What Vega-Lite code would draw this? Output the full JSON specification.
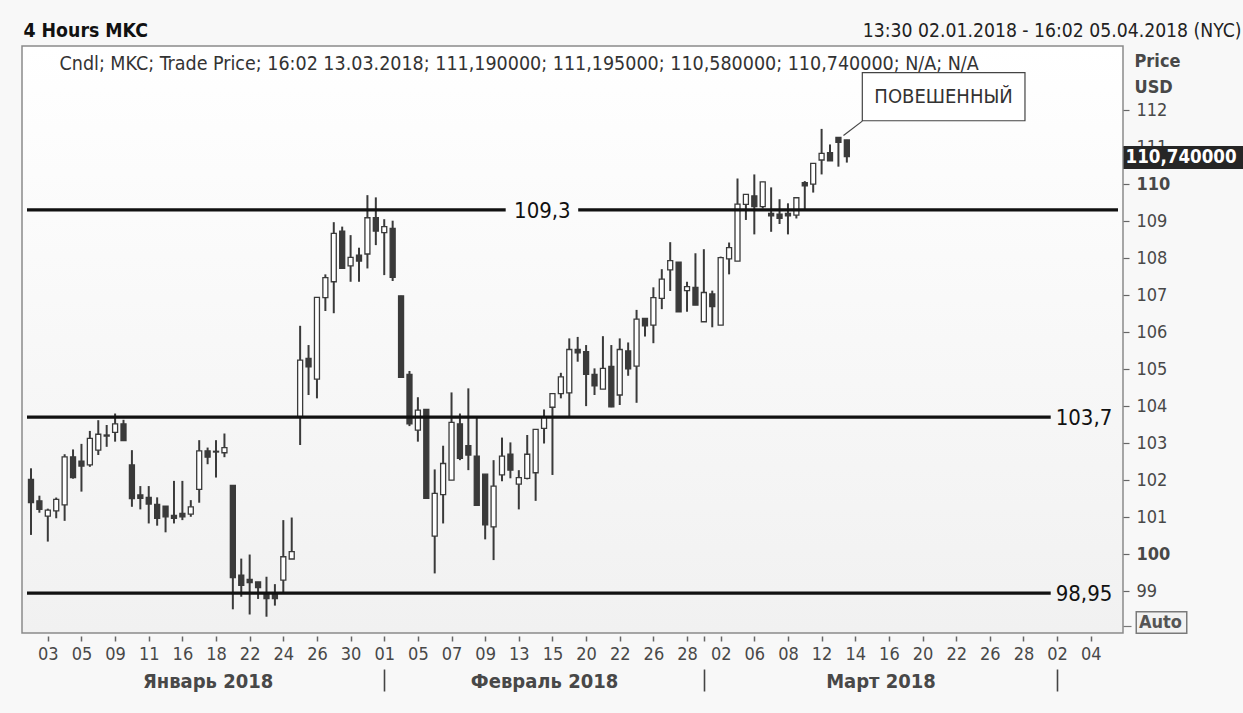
{
  "$schema": "https://vega.github.io/schema/vega-lite/v6.json",
  "width": 1101,
  "height": 587,
  "autosize": {"type": "none"},
  "padding": {"left": 22, "top": 46, "right": 120, "bottom": 80},
  "background": "#f8f8f8",
  "view": {
    "fill": {"gradient": "linear", "x1": 0, "y1": 0, "x2": 0, "y2": 1, "stops": [{"offset": 0, "color": "#ffffff"}, {"offset": 1, "color": "#f1f1f1"}]},
    "stroke": "#8a8a8a",
    "strokeWidth": 1.5
  },
  "config": {
    "font": "DejaVu Sans Condensed, DejaVu Sans",
    "axis": {"grid": false, "domain": false, "labelFont": "DejaVu Sans Condensed, DejaVu Sans", "titleFont": "DejaVu Sans Condensed, DejaVu Sans", "labelFontSize": 18, "labelColor": "#484848", "tickColor": "#666666", "labelOverlap": false, "labelFlush": false, "labelBound": false, "title": null}
  },
  "datasets": {
    "candles": [
      {"s": -1, "o": 102.02, "h": 102.32, "l": 100.52, "c": 101.39},
      {"s": -0.5, "o": 101.44, "h": 101.58, "l": 101.12, "c": 101.21},
      {"s": 0, "o": 101.03, "h": 101.23, "l": 100.34, "c": 101.19},
      {"s": 0.5, "o": 101.17, "h": 101.53, "l": 100.97, "c": 101.48},
      {"s": 1, "o": 101.33, "h": 102.70, "l": 100.90, "c": 102.63},
      {"s": 1.5, "o": 102.63, "h": 102.83, "l": 102.04, "c": 102.07},
      {"s": 2, "o": 102.51, "h": 102.98, "l": 101.69, "c": 102.38},
      {"s": 2.5, "o": 102.41, "h": 103.33, "l": 102.36, "c": 103.13},
      {"s": 3, "o": 102.81, "h": 103.62, "l": 102.68, "c": 103.24},
      {"s": 3.5, "o": 103.19, "h": 103.49, "l": 102.90, "c": 103.22},
      {"s": 4, "o": 103.29, "h": 103.80, "l": 103.04, "c": 103.52},
      {"s": 4.5, "o": 103.52, "h": 103.63, "l": 103.07, "c": 103.07},
      {"s": 5, "o": 102.41, "h": 102.81, "l": 101.28, "c": 101.50},
      {"s": 5.5, "o": 101.60, "h": 101.84, "l": 101.21, "c": 101.51},
      {"s": 6, "o": 101.535, "h": 101.84, "l": 100.83, "c": 101.355},
      {"s": 6.5, "o": 101.345, "h": 101.535, "l": 100.77, "c": 100.97},
      {"s": 7, "o": 101.30, "h": 101.30, "l": 100.59, "c": 101.01},
      {"s": 7.5, "o": 101.05, "h": 101.98, "l": 100.83, "c": 100.97},
      {"s": 8, "o": 101.10, "h": 101.98, "l": 100.92, "c": 101.01},
      {"s": 8.5, "o": 101.08, "h": 101.46, "l": 101.01, "c": 101.28},
      {"s": 9, "o": 101.75, "h": 103.08, "l": 101.39, "c": 102.79},
      {"s": 9.5, "o": 102.79, "h": 102.88, "l": 102.43, "c": 102.62},
      {"s": 10, "o": 102.76, "h": 103.08, "l": 102.07, "c": 102.78},
      {"s": 10.5, "o": 102.74, "h": 103.26, "l": 102.62, "c": 102.88},
      {"s": 11, "o": 101.86, "h": 101.86, "l": 98.51, "c": 99.37},
      {"s": 11.5, "o": 99.43, "h": 99.88, "l": 98.85, "c": 99.16},
      {"s": 12, "o": 99.32, "h": 99.99, "l": 98.37, "c": 99.23},
      {"s": 12.5, "o": 99.25, "h": 99.25, "l": 98.79, "c": 99.10},
      {"s": 13, "o": 98.92, "h": 99.39, "l": 98.31, "c": 98.80},
      {"s": 13.5, "o": 98.94, "h": 99.19, "l": 98.61, "c": 98.80},
      {"s": 14, "o": 99.30, "h": 100.92, "l": 98.96, "c": 99.93},
      {"s": 14.5, "o": 99.87, "h": 100.99, "l": 99.87, "c": 100.07},
      {"s": 15, "o": 103.70, "h": 106.17, "l": 102.95, "c": 105.245},
      {"s": 15.5, "o": 105.29, "h": 105.65, "l": 104.30, "c": 105.06},
      {"s": 16, "o": 104.73, "h": 106.94, "l": 104.21, "c": 106.94},
      {"s": 16.5, "o": 106.93, "h": 107.56, "l": 106.57, "c": 107.47},
      {"s": 17, "o": 107.36, "h": 108.97, "l": 106.51, "c": 108.67},
      {"s": 17.5, "o": 108.73, "h": 108.85, "l": 107.72, "c": 107.72},
      {"s": 18, "o": 107.79, "h": 108.62, "l": 107.36, "c": 108.02},
      {"s": 18.5, "o": 108.08, "h": 108.28, "l": 107.36, "c": 107.92},
      {"s": 19, "o": 108.11, "h": 109.70, "l": 107.72, "c": 109.09},
      {"s": 19.5, "o": 109.09, "h": 109.64, "l": 108.35, "c": 108.73},
      {"s": 20, "o": 108.69, "h": 109.05, "l": 107.54, "c": 108.85},
      {"s": 20.5, "o": 108.80, "h": 109.01, "l": 107.38, "c": 107.48},
      {"s": 21, "o": 106.98, "h": 106.98, "l": 104.78, "c": 104.78},
      {"s": 21.5, "o": 104.86, "h": 104.95, "l": 103.46, "c": 103.52},
      {"s": 22, "o": 103.35, "h": 104.24, "l": 103.04, "c": 103.89},
      {"s": 22.5, "o": 103.91, "h": 103.91, "l": 101.51, "c": 101.51},
      {"s": 23, "o": 100.49, "h": 102.29, "l": 99.48, "c": 101.64},
      {"s": 23.5, "o": 101.61, "h": 102.93, "l": 100.83, "c": 102.45},
      {"s": 24, "o": 102.00, "h": 104.37, "l": 102.00, "c": 103.56},
      {"s": 24.5, "o": 103.52, "h": 103.80, "l": 102.54, "c": 102.59},
      {"s": 25, "o": 102.93, "h": 104.48, "l": 102.27, "c": 102.68},
      {"s": 25.5, "o": 102.65, "h": 103.70, "l": 101.32, "c": 101.32},
      {"s": 26, "o": 102.16, "h": 102.16, "l": 100.40, "c": 100.79},
      {"s": 26.5, "o": 100.74, "h": 102.54, "l": 99.84, "c": 101.84},
      {"s": 27, "o": 102.14, "h": 103.15, "l": 101.97, "c": 102.65},
      {"s": 27.5, "o": 102.70, "h": 103.02, "l": 102.05, "c": 102.27},
      {"s": 28, "o": 101.89, "h": 102.27, "l": 101.21, "c": 102.07},
      {"s": 28.5, "o": 102.05, "h": 103.22, "l": 102.02, "c": 102.70},
      {"s": 29, "o": 102.20, "h": 103.37, "l": 101.44, "c": 103.37},
      {"s": 29.5, "o": 103.40, "h": 103.91, "l": 102.99, "c": 103.70},
      {"s": 30, "o": 103.97, "h": 104.34, "l": 102.14, "c": 104.34},
      {"s": 30.5, "o": 104.34, "h": 104.90, "l": 104.21, "c": 104.79},
      {"s": 31, "o": 104.36, "h": 105.83, "l": 103.71, "c": 105.53},
      {"s": 31.5, "o": 105.53, "h": 105.87, "l": 105.20, "c": 105.44},
      {"s": 32, "o": 105.47, "h": 105.65, "l": 104.00, "c": 104.86},
      {"s": 32.5, "o": 104.86, "h": 105.02, "l": 104.30, "c": 104.55},
      {"s": 33, "o": 104.46, "h": 105.89, "l": 104.46, "c": 105.02},
      {"s": 33.5, "o": 105.07, "h": 105.65, "l": 103.97, "c": 103.98},
      {"s": 34, "o": 104.30, "h": 105.83, "l": 104.03, "c": 105.53},
      {"s": 34.5, "o": 105.49, "h": 105.72, "l": 104.82, "c": 105.01},
      {"s": 35, "o": 105.08, "h": 106.60, "l": 104.09, "c": 106.35},
      {"s": 35.5, "o": 106.37, "h": 106.37, "l": 105.88, "c": 106.17},
      {"s": 36, "o": 106.19, "h": 107.21, "l": 105.70, "c": 106.93},
      {"s": 36.5, "o": 106.91, "h": 107.70, "l": 106.62, "c": 107.43},
      {"s": 37, "o": 107.68, "h": 108.43, "l": 107.11, "c": 107.93},
      {"s": 37.5, "o": 107.89, "h": 107.89, "l": 106.55, "c": 106.55},
      {"s": 38, "o": 107.12, "h": 107.36, "l": 106.55, "c": 107.23},
      {"s": 38.5, "o": 107.21, "h": 108.13, "l": 106.73, "c": 106.73},
      {"s": 39, "o": 106.28, "h": 108.24, "l": 106.28, "c": 107.07},
      {"s": 39.5, "o": 107.03, "h": 107.12, "l": 106.13, "c": 106.69},
      {"s": 40, "o": 106.19, "h": 108.04, "l": 106.19, "c": 108.01},
      {"s": 40.5, "o": 107.98, "h": 108.42, "l": 107.56, "c": 108.28},
      {"s": 41, "o": 107.92, "h": 110.15, "l": 107.92, "c": 109.46},
      {"s": 41.5, "o": 109.45, "h": 109.72, "l": 109.03, "c": 109.72},
      {"s": 42, "o": 109.68, "h": 110.26, "l": 108.64, "c": 109.39},
      {"s": 42.5, "o": 109.39, "h": 110.06, "l": 109.34, "c": 110.06},
      {"s": 43, "o": 109.21, "h": 109.91, "l": 108.71, "c": 109.14},
      {"s": 43.5, "o": 109.19, "h": 109.59, "l": 108.92, "c": 109.07},
      {"s": 44, "o": 109.21, "h": 109.48, "l": 108.64, "c": 109.14},
      {"s": 44.5, "o": 109.16, "h": 109.63, "l": 109.07, "c": 109.63},
      {"s": 45, "o": 110.04, "h": 110.08, "l": 109.30, "c": 109.95},
      {"s": 45.5, "o": 110.00, "h": 110.56, "l": 109.77, "c": 110.56},
      {"s": 46, "o": 110.65, "h": 111.49, "l": 110.26, "c": 110.83},
      {"s": 46.5, "o": 110.85, "h": 111.07, "l": 110.63, "c": 110.63},
      {"s": 47, "o": 111.26, "h": 111.26, "l": 110.47, "c": 111.13},
      {"s": 47.5, "o": 111.19, "h": 111.195, "l": 110.58, "c": 110.74}
    ],
    "levels": [
      {"from": -1.237, "to": 27.22, "price": 109.3},
      {"from": 31.53, "to": 63.62, "price": 109.3},
      {"from": -1.237, "to": 59.62, "price": 103.7},
      {"from": -1.237, "to": 59.62, "price": 98.95}
    ],
    "levelLabels": [
      {"at": 29.4, "price": 109.3, "label": "109,3"},
      {"at": 61.6, "price": 103.7, "label": "103,7"},
      {"at": 61.6, "price": 98.95, "label": "98,95"}
    ],
    "note": [
      {"left": 48.42, "right": 58.09, "top": 113.01, "bottom": 111.71, "mid": 53.25, "midPrice": 112.36, "fromS": 48.42, "fromP": 111.70, "toS": 47.3, "toP": 111.31, "label": "ПОВЕШЕННЫЙ"}
    ]
  },
  "resolve": {"axis": {"x": "independent", "y": "independent"}},
  "layer": [
    {
      "data": {"name": "candles"},
      "mark": {"type": "rule", "color": "#3a3a3a", "strokeWidth": 2},
      "encoding": {
        "x": {"field": "s", "type": "quantitative", "scale": {"domain": [-1.237, 63.62], "nice": false, "zero": false},
          "axis": {"orient": "bottom", "offset": 3, "values": [0,2,4,6,8,10,12,14,16,18,20,22,24,26,28,30,32,34,36,38,39,40,42,44,46,48,50,52,54,56,58,60,62],
            "labelExpr": "datum.value == 39 ? '' : ['03','05','09','11','16','18','22','24','26','30','01','05','07','09','13','15','20','22','26','28','02','06','08','12','14','16','20','22','26','28','02','04'][datum.value/2]",
            "tickSize": 5, "tickWidth": 1.5, "labelPadding": 4}},
        "y": {"field": "l", "type": "quantitative", "scale": {"domain": [97.87, 113.73], "nice": false, "zero": false},
          "axis": {"orient": "right", "values": [99,100,101,102,103,104,105,106,107,108,109,110,111,112], "tickSize": 6, "tickWidth": 1.2, "labelPadding": 7,
            "labelFontWeight": {"condition": {"test": "datum.value == 100 || datum.value == 110", "value": "bold"}, "value": "normal"},
            "title": ["Price", "USD"], "titleAngle": 0, "titleAlign": "left", "titleBaseline": "alphabetic", "titleX": 11, "titleY": 20, "titleLineHeight": 26, "titleFontSize": 18, "titleFontWeight": "bold", "titleColor": "#484848"}},
        "y2": {"field": "h"}
      }
    },
    {
      "data": {"name": "candles"},
      "mark": {"type": "bar", "orient": "vertical", "size": 5, "stroke": "#3a3a3a", "strokeWidth": 1.3},
      "encoding": {
        "x": {"field": "s", "type": "quantitative", "scale": {"domain": [-1.237, 63.62], "nice": false, "zero": false},
          "axis": {"orient": "bottom", "offset": 36, "values": [9.5, 29.5, 49.5], "ticks": false, "labelPadding": 2,
            "labelExpr": "datum.value < 20 ? 'Январь 2018' : datum.value < 40 ? 'Февраль 2018' : 'Март 2018'",
            "labelFontWeight": "bold", "labelFontSize": 20}},
        "y": {"field": "o", "type": "quantitative", "scale": {"domain": [97.87, 113.73], "nice": false, "zero": false},
          "axis": {"orient": "right", "values": [110.74], "labelExpr": "'110,740000'", "tickSize": 120, "tickWidth": 23, "tickColor": "#262626", "tickCap": "butt", "labelPadding": -118, "labelAlign": "left", "labelBaseline": "middle", "labelColor": "#ffffff", "labelFontWeight": "bold", "labelFontSize": 18.6}},
        "y2": {"field": "c"},
        "fill": {"condition": {"test": "datum.c > datum.o", "value": "#ffffff"}, "value": "#3a3a3a"}
      }
    },
    {
      "data": {"name": "levels"},
      "mark": {"type": "rule", "color": "#111111", "strokeWidth": 3.2},
      "encoding": {
        "x": {"field": "from", "type": "quantitative", "scale": {"domain": [-1.237, 63.62], "nice": false, "zero": false},
          "axis": {"orient": "bottom", "offset": 36, "values": [20, 39, 60], "labels": false, "tickSize": 22, "tickWidth": 1.6, "tickColor": "#444444"}},
        "x2": {"field": "to"},
        "y": {"field": "price", "type": "quantitative", "scale": {"domain": [97.87, 113.73], "nice": false, "zero": false},
          "axis": {"orient": "right", "offset": 12, "values": [98.165], "labels": false, "tickSize": 52, "tickWidth": 23, "tickColor": "#7a7a7a", "tickCap": "butt"}}
      }
    },
    {
      "data": {"name": "levelLabels"},
      "mark": {"type": "text", "fontSize": 22, "color": "#111111", "align": "center", "baseline": "middle", "dy": 1},
      "encoding": {
        "x": {"field": "at", "type": "quantitative", "scale": {"domain": [-1.237, 63.62], "nice": false, "zero": false},
          "axis": {"orient": "top", "ticks": false, "labels": false, "title": "Cndl; MKC; Trade Price;  16:02 13.03.2018; 111,190000; 111,195000; 110,580000; 110,740000; N/A; N/A",
            "titleX": 37, "titleY": 23, "titleAlign": "left", "titleBaseline": "alphabetic", "titleAnchor": null, "titleFontSize": 19.5, "titleFontWeight": "normal", "titleColor": "#333333"}},
        "y": {"field": "price", "type": "quantitative", "scale": {"domain": [97.87, 113.73], "nice": false, "zero": false},
          "axis": {"orient": "right", "offset": 13.5, "values": [98.165], "labelExpr": "'Auto'", "tickSize": 49, "tickWidth": 20, "tickColor": "#f2f2f2", "tickCap": "butt", "labelPadding": -47, "labelAlign": "left", "labelBaseline": "middle", "labelFontWeight": "bold", "labelFontSize": 18, "labelColor": "#555555"}},
        "text": {"field": "label"}
      }
    },
    {
      "data": {"name": "note"},
      "mark": {"type": "rect", "fill": "#ffffff", "stroke": "#444444", "strokeWidth": 1.2},
      "encoding": {
        "x": {"field": "left", "type": "quantitative", "scale": {"domain": [-1.237, 63.62], "nice": false, "zero": false},
          "axis": {"orient": "top", "ticks": false, "labels": false, "title": "13:30 02.01.2018 - 16:02 05.04.2018 (NYC)",
            "titleX": 1219, "titleY": -10, "titleAlign": "right", "titleBaseline": "alphabetic", "titleAnchor": null, "titleFontSize": 19.2, "titleFontWeight": "normal", "titleColor": "#222222"}},
        "x2": {"field": "right"},
        "y": {"field": "top", "type": "quantitative", "scale": {"domain": [97.87, 113.73], "nice": false, "zero": false},
          "axis": {"orient": "right", "values": [98.06], "labels": false, "tickSize": 8, "tickWidth": 1.2, "tickColor": "#777777"}},
        "y2": {"field": "bottom"}
      }
    },
    {
      "data": {"name": "note"},
      "mark": {"type": "rule", "color": "#444444", "strokeWidth": 1.2},
      "encoding": {
        "x": {"field": "fromS", "type": "quantitative", "scale": {"domain": [-1.237, 63.62], "nice": false, "zero": false},
          "axis": {"orient": "top", "ticks": false, "labels": false, "title": "4 Hours MKC",
            "titleX": 1, "titleY": -10, "titleAlign": "left", "titleBaseline": "alphabetic", "titleAnchor": null, "titleFontSize": 19.3, "titleFontWeight": "bold", "titleColor": "#111111"}},
        "x2": {"field": "toS"},
        "y": {"field": "fromP", "type": "quantitative", "scale": {"domain": [97.87, 113.73], "nice": false, "zero": false}, "axis": null},
        "y2": {"field": "toP"}
      }
    },
    {
      "data": {"name": "note"},
      "mark": {"type": "text", "fontSize": 20, "color": "#333333", "align": "center", "baseline": "middle"},
      "encoding": {
        "x": {"field": "mid", "type": "quantitative", "scale": {"domain": [-1.237, 63.62], "nice": false, "zero": false}, "axis": null},
        "y": {"field": "midPrice", "type": "quantitative", "scale": {"domain": [97.87, 113.73], "nice": false, "zero": false}, "axis": null},
        "text": {"field": "label"}
      }
    }
  ]
}
